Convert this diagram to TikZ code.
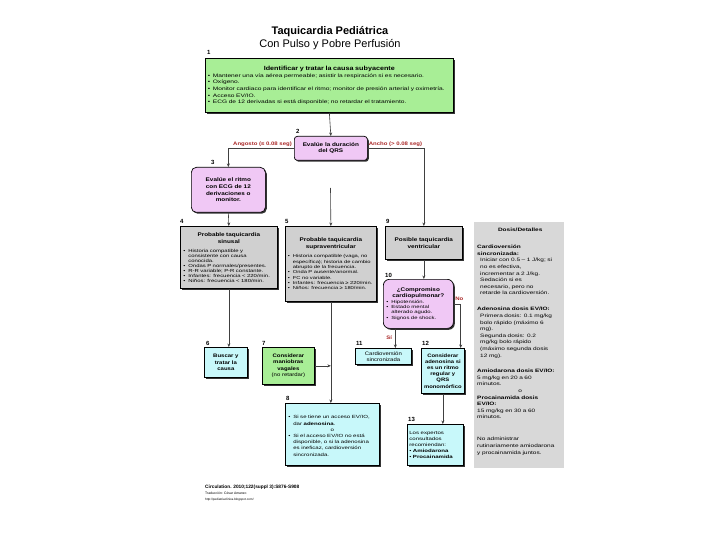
\documentclass[tikz,border=0pt]{standalone}
\usepackage{fontspec}
\setmainfont{Liberation Sans}
\newfontfamily\sm{Liberation Sans}[FakeStretch=1.35]
\newfontfamily\smb{Liberation Sans}[FakeStretch=1.2]
\usetikzlibrary{shadows,arrows.meta}
\definecolor{grn}{RGB}{168,238,150}
\definecolor{pnk}{RGB}{240,200,245}
\definecolor{gry}{RGB}{208,208,208}
\definecolor{cyn}{RGB}{200,248,250}
\definecolor{dgry}{RGB}{216,216,216}
\definecolor{lblred}{RGB}{170,40,40}
\newcommand\bi{\par\hangindent=5pt\hangafter=1\noindent\makebox[5pt][l]{\textbullet}}
\tikzset{
  bx/.style={draw=black, line width=0.7pt, anchor=north west, inner xsep=2pt, inner ysep=1pt, align=left,
    drop shadow={shadow xshift=1.4pt, shadow yshift=-1.4pt, fill=black!80, opacity=1}},
  txt/.style={font=\sm\fontsize{4.4}{5}\selectfont},
  ttl/.style={font=\smb\fontsize{5.3}{6.3}\selectfont\bfseries},
  num/.style={font=\fontsize{6}{6}\selectfont\bfseries, anchor=base west, inner sep=0},
  arr/.style={-{Stealth[length=3.5pt,width=3pt]}, line width=0.6pt, draw=black!75},
  lbl/.style={text=lblred, font=\smb\fontsize{5}{5.5}\selectfont\bfseries, inner sep=0},
}
\begin{document}
\begin{tikzpicture}[x=1pt,y=-1pt]
\useasboundingbox (0,0) rectangle (720,540);
\fill[white] (0,0) rectangle (720,540);
% title
\node[font=\fontsize{11}{12}\selectfont\bfseries, anchor=base] (t1) at (330,35) {Taquicardia Pediátrica};
\node[font=\fontsize{11}{12}\selectfont, anchor=base] (t2) at (330,48) {Con Pulso y Pobre Perfusión};
% box 1
\node[bx, fill=grn, minimum width=248pt, minimum height=54pt, text width=243pt, inner xsep=2.5pt, font=\sm\fontsize{4.9}{6.6}\selectfont] (b1) at (205,58) {%
{\centering\smb\bfseries\fontsize{6}{7.5}\selectfont Identificar y tratar la causa subyacente\par}\vspace{0.5pt}
\bi Mantener una vía aérea permeable; asistir la respiración si es necesario.
\bi Oxígeno.
\bi Monitor cardiaco para identificar el ritmo; monitor de presión arterial y oximetría.
\bi Acceso EV/IO.
\bi ECG de 12 derivadas si está disponible; no retardar el tratamiento.\par};
% box 2
\node[bx, fill=pnk, rounded corners=3pt, minimum width=73pt, minimum height=24pt, text width=69pt, ttl, align=center] (b2) at (294,136) {Evalúe la duración\\del QRS};
% box 3
\node[bx, fill=pnk, rounded corners=5pt, minimum width=74pt, minimum height=45pt, text width=70pt, font=\smb\fontsize{5.3}{6.8}\selectfont\bfseries, align=center] (b3) at (191,167) {Evalúe el ritmo\\con ECG de 12\\derivaciones o\\monitor.};
% box 4
\node[bx, fill=gry, minimum width=97pt, minimum height=62pt, text width=91pt, txt] (b4) at (180,226) {%
{\centering\smb\bfseries\fontsize{5.3}{7}\selectfont Probable taquicardia\\sinusal\par}\vspace{4pt}
\bi Historia compatible y\newline consistente con causa\newline conocida.
\bi Ondas P normales/presentes.
\bi R-R variable; P-R constante.
\bi Infantes: frecuencia < 220/min.
\bi Niños: frecuencia < 180/min.\par};
% box 5
\node[bx, fill=gry, minimum width=91pt, minimum height=75pt, text width=86pt, inner xsep=2.5pt, font=\sm\fontsize{4.3}{5.3}\selectfont] (b5) at (285,226) {%
{\centering\smb\bfseries\fontsize{5.3}{7}\selectfont Probable taquicardia\\supraventricular\par}\vspace{4pt}
\bi Historia compatible (vaga, no\newline específica); historia de cambio\newline abrupto de la frecuencia.
\bi Onda P ausente/anormal.
\bi FC no variable.
\bi Infantes: frecuencia ≥ 220/min.
\bi Niños: frecuencia ≥ 180/min.\par};
% box 9
\node[bx, fill=gry, minimum width=77pt, minimum height=33pt, text width=73pt, ttl, font=\smb\fontsize{5.3}{7}\selectfont\bfseries, align=center] (b9) at (385,226) {Posible taquicardia\\ventricular\\[11pt]};
% box 10
\node[bx, fill=pnk, rounded corners=6pt, minimum width=70pt, minimum height=49pt, text width=64pt, inner xsep=3pt, font=\sm\fontsize{4.4}{5.3}\selectfont] (b10) at (383,279) {%
{\centering\smb\bfseries\fontsize{5.3}{6.3}\selectfont ¿Compromiso\\cardiopulmonar?\par}
\bi Hipotensión.
\bi Estado mental\newline alterado agudo.
\bi Signos de shock.\par};
% box 6
\node[bx, fill=cyn, minimum width=43pt, minimum height=30pt, text width=40pt, inner xsep=1.5pt, font=\smb\fontsize{5}{6.4}\selectfont\bfseries, align=center] (b6) at (204,347) {Buscar y\\tratar la\\causa};
% box 7
\node[bx, fill=grn, minimum width=52pt, minimum height=37pt, text width=49pt, inner xsep=1.5pt, font=\smb\fontsize{5}{6.4}\selectfont, align=center] (b7) at (262,347) {\textbf{Considerar}\\\textbf{maniobras}\\\textbf{vagales}\\(no retardar)};
% box 11
\node[bx, fill=cyn, minimum width=56pt, minimum height=16pt, text width=53pt, inner xsep=1.5pt, font=\smb\fontsize{5}{5.8}\selectfont, align=center] (b11) at (355,348) {Cardioversión\\sincronizada};
% box 12
\node[bx, fill=cyn, minimum width=43pt, minimum height=45pt, text width=41pt, inner xsep=1pt, font=\smb\fontsize{4.9}{6.2}\selectfont\bfseries, align=center] (b12) at (421,348) {Considerar\\adenosina si\\es un ritmo\\regular y\\QRS\\monomórfico};
% box 8
\node[bx, fill=cyn, minimum width=94pt, minimum height=62pt, text width=88pt, inner xsep=3pt, font=\sm\fontsize{4.5}{6.2}\selectfont] (b8) at (285,403) {%
\bi Si se tiene un acceso EV/IO,\newline dar \textbf{adenosina}.\par
{\centering o\par}
\bi Si el acceso EV/IO no está\newline disponible, o si la adenosina\newline es ineficaz, cardioversión\newline sincronizada.\par};
% box 13
\node[bx, fill=cyn, minimum width=56pt, minimum height=41pt, text width=52pt, inner xsep=2pt, font=\sm\fontsize{4.5}{6}\selectfont] (b13) at (407,424) {%
Los expertos\\consultados\\recomiendan:\\\textbullet\ \textbf{Amiodarona}\\\textbullet\ \textbf{Procainamida}};
% dose box
\node[fill=dgry, anchor=north west, minimum width=90pt, minimum height=246pt, inner sep=0] (dose) at (474,222) {};
\node[anchor=base west, inner sep=0, text width=86pt, align=left, font=\sm\fontsize{4.8}{6.6}\selectfont] (dt) at (477,231.5) {%
\makebox[86pt]{\bfseries Dosis/Detalles}\\[10.5pt]
\textbf{Cardioversión}\\
\textbf{sincronizada:}\\
\hspace*{3pt}Iniciar con 0.5 – 1 J/kg; si\\
\hspace*{3pt}no es efectiva,\\
\hspace*{3pt}incrementar a 2 J/kg.\\
\hspace*{3pt}Sedación si es\\
\hspace*{3pt}necesario, pero no\\
\hspace*{3pt}retarde la cardioversión.\\[9.5pt]
\textbf{Adenosina dosis EV/IO:}\\
\hspace*{3pt}Primera dosis: 0.1 mg/kg\\
\hspace*{3pt}bolo rápido (máximo 6\\
\hspace*{3pt}mg).\\
\hspace*{3pt}Segunda dosis: 0.2\\
\hspace*{3pt}mg/kg bolo rápido\\
\hspace*{3pt}(máximo segunda dosis\\
\hspace*{3pt}12 mg).\\[9pt]
\textbf{Amiodarona dosis EV/IO:}\\
5 mg/kg en 20 a 60\\
minutos.\\
\makebox[86pt]{o}\\
\textbf{Procainamida dosis}\\
\textbf{EV/IO:}\\
15 mg/kg en 30 a 60\\
minutos.\\[15.5pt]
No administrar\\
rutinariamente amiodarona\\
y procainamida juntos.};
% numbers
\node[num] (n1) at (207,55) {1};
\node[num] (n2) at (296,134) {2};
\node[num] (n3) at (211,165) {3};
\node[num] (n4) at (180,224) {4};
\node[num] (n5) at (285,224) {5};
\node[num] (n9) at (386,224) {9};
\node[num] (n10) at (385,277) {10};
\node[num] (n6) at (206,345) {6};
\node[num] (n7) at (262,345) {7};
\node[num] (n11) at (356,345) {11};
\node[num] (n12) at (422,345) {12};
\node[num] (n8) at (286,400) {8};
\node[num] (n13) at (408,421) {13};
% labels
\node[lbl, anchor=south east] (la) at ([xshift=-2pt,yshift=1.5pt]b2.west) {Angosto (≤ 0.08 seg)};
\node[lbl, anchor=south west] (lb) at ([xshift=1pt,yshift=1.5pt]b2.east) {Ancho (> 0.08 seg)};
\node[lbl, anchor=south west] (lno) at ([xshift=1.5pt,yshift=3pt]b10.east) {No};
\node[lbl, anchor=east] (lsi) at ([xshift=9pt,yshift=10pt]b11.north) {Sí};
% connectors
\coordinate (c5) at (330.5,188);
\coordinate (sa) at ([xshift=12pt]b11.north);
\coordinate (na) at ([xshift=-4pt]b12.north east);
\draw[arr] (b1.south) -- (b2.north);
\draw[arr] (b2.west) -| (b3.north);
\draw[arr] (b2.east) -| (b9.north);
\draw[arr] (b3.south) -- (b4.north);
\draw[arr] (c5) -- (b5.north);
\draw[arr] (b4.south) -- (b4.south |- b6.north);
\draw[arr] (b5.south) -- (b5.south |- b8.north);
\draw[arr] (b7.east) -- (b7.east -| b5.south);
\draw[arr] (b9.south) -- (b9.south |- b10.north);
\draw[arr] (sa |- b10.south) -- (sa);
\draw[arr] (b10.east) -| (na);
\draw[arr] (b12.south) -- (b12.south |- b13.north);
% footer
\node[anchor=base west, inner sep=0, font=\fontsize{4.8}{6}\selectfont\bfseries] (f1) at (205,488) {Circulation. 2010;122(suppl 3):S876-S908};
\node[anchor=base west, inner sep=0, font=\fontsize{3.4}{4}\selectfont] (f2) at (205,494.5) {Traducción: César Amanzo};
\node[anchor=base west, inner sep=0, font=\fontsize{3.1}{4}\selectfont] (f3) at (205,500.5) {http://pediatriaclinica.blogspot.com/};
\end{tikzpicture}
\end{document}
